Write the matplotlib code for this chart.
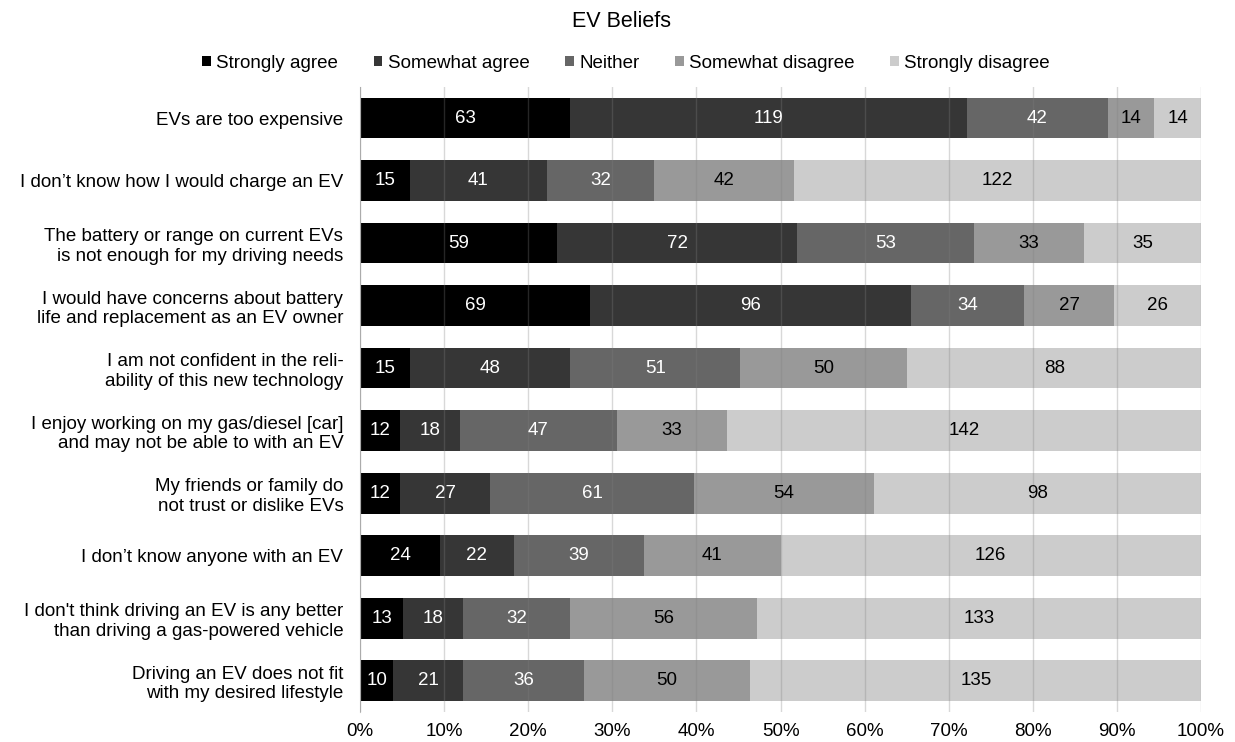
import matplotlib.pyplot as plt
import numpy as np

plt.rcParams["font.family"] = ["Liberation Sans", "DejaVu Sans"]

statements = [
    "EVs are too expensive",
    "I don’t know how I would charge an EV",
    "The battery or range on current EVs\nis not enough for my driving needs",
    "I would have concerns about battery\nlife and replacement as an EV owner",
    "I am not confident in the reli-\nability of this new technology",
    "I enjoy working on my gas/diesel [car]\nand may not be able to with an EV",
    "My friends or family do\nnot trust or dislike EVs",
    "I don’t know anyone with an EV",
    "I don't think driving an EV is any better\nthan driving a gas-powered vehicle",
    "Driving an EV does not fit\nwith my desired lifestyle",
]
responses = ["Strongly agree", "Somewhat agree", "Neither",
             "Somewhat disagree", "Strongly disagree"]

strongly_agree = [63, 15, 59, 69, 15, 12, 12, 24, 13, 10]
somewhat_agree = [119, 41, 72, 96, 48, 18, 27, 22, 18, 21]
neither = [42, 32, 53, 34, 51, 47, 61, 39, 32, 36]
somewhat_disagree = [14, 42, 33, 27, 50, 33, 54, 41, 56, 50]
strongly_disagree = [14, 122, 35, 26, 88, 142, 98, 126, 133, 135]

colors = ["#000000", "#363636", "#666666", "#999999", "#cccccc"]
text_colors = ["white", "white", "white", "black", "black"]

counts = np.array([strongly_agree, somewhat_agree, neither,
                   somewhat_disagree, strongly_disagree], dtype=float)
shares = counts / counts.sum(axis=0) * 100

fig = plt.figure(figsize=(12.35, 7.42), dpi=100)
ax = fig.add_axes([0.2915, 0.0404, 0.681, 0.8426])

y = np.arange(len(statements))
left = np.zeros(len(statements))
for i, name in enumerate(responses):
    ax.barh(y, shares[i], left=left, height=0.65, color=colors[i],
            label=name, zorder=2)
    for j in range(len(statements)):
        ax.text(left[j] + shares[i, j] / 2, y[j], f"{int(counts[i, j])}",
                ha="center", va="center", fontsize=13.5,
                color=text_colors[i], zorder=4)
    left += shares[i]

ax.set_xlim(0, 100)
ax.set_ylim(len(statements) - 0.5, -0.5)
ax.set_yticks(y)
ax.set_yticklabels(statements, fontsize=13.5)
ax.set_xticks(np.arange(0, 101, 10))
ax.set_xticklabels([f"{v}%" for v in range(0, 101, 10)], fontsize=13.5)
ax.tick_params(axis="y", length=0, pad=12)
ax.tick_params(axis="x", length=0, pad=8)

for v in range(0, 101, 10):
    ax.axvline(v, color="#808080", alpha=0.3, lw=1, zorder=3)

for s in ["top", "right", "bottom"]:
    ax.spines[s].set_visible(False)
ax.spines["left"].set_color("#bfbfbf")

fig.suptitle("EV Beliefs", x=0.503, y=0.985, fontsize=15.5)
fig.legend(loc="center", bbox_to_anchor=(0.507, 0.915), ncol=5,
           frameon=False, fontsize=13.5, handlelength=0.45,
           handleheight=0.45, handletextpad=0.3, columnspacing=1.9)

fig.savefig("out.png", dpi=100)
